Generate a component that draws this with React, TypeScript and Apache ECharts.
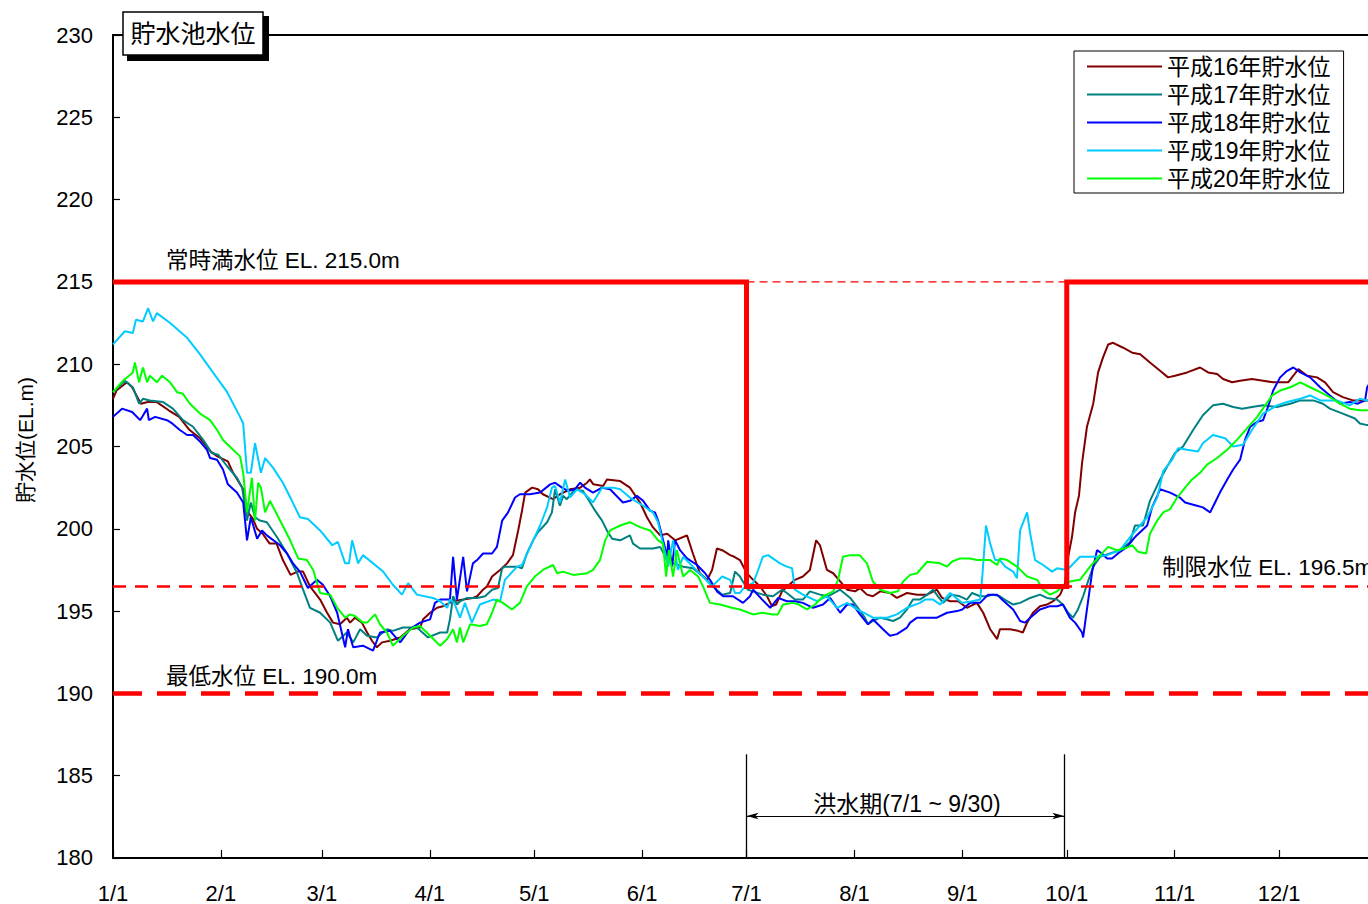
import React, { useEffect, useRef } from "react";
import * as echarts from "echarts";

// ---- axis ticks (day of year, leap year) ----
const MONTH_DAYS = [0, 31, 60, 91, 121, 152, 182, 213, 244, 274, 305, 335];
const MONTH_LABELS = ["1/1", "2/1", "3/1", "4/1", "5/1", "6/1", "7/1", "8/1", "9/1", "10/1", "11/1", "12/1"];

// ---- series names ----
const NAMES = ["平成16年貯水位", "平成17年貯水位", "平成18年貯水位", "平成19年貯水位", "平成20年貯水位"];
const COLORS = ["#800000", "#008080", "#0000FF", "#00CCFF", "#00FF00"];

// ---- reservoir levels [day of year, EL.m] ----
const h16 = [[0,207.9],[1,208.4],[4,208.9],[5.5,208.6],[8,207.6],[10,207.7],[12.6,207.7],[16,207.2],[19,206.8],[22,206.0],[25,205.5],[28,204.7],[30,204.4],[33,204.1],[34.5,203.4],[37.4,202.4],[38.8,201.0],[40.2,200.6],[41.4,200.0],[43,199.7],[45,199.1],[47,199.1],[48.8,198.1],[51,197.2],[53,197.4],[54.6,197.4],[56.6,196.5],[59.5,195.7],[61.5,194.9],[63.2,194.3],[65.2,194.2],[67.2,194.6],[68.1,194.3],[69.5,194.6],[71.5,194.3],[73,193.7],[74.4,193.2],[75.8,192.8],[77.3,193.1],[79.6,193.2],[82.5,193.4],[85.3,193.9],[88.2,194.0],[89.1,194.5],[91.1,194.9],[93.1,195.2],[94.8,195.3],[97.7,195.6],[100.6,195.7],[103.4,195.8],[104.6,195.9],[106.3,196.3],[107.4,196.5],[108.9,197.1],[111.2,197.5],[113.2,197.9],[114.9,198.4],[116.4,199.9],[117.5,201.1],[118.4,202.2],[120.4,202.5],[122.1,202.4],[123.5,202.1],[126.4,201.8],[128.4,202.1],[131.3,202.4],[134.2,202.5],[136.2,202.8],[137,203.0],[138,202.7],[140.8,202.6],[141.9,203.0],[145.7,202.9],[148.5,202.5],[151.4,201.6],[153.4,200.7],[155.1,200.1],[157.2,199.6],[159.2,199.7],[161.5,199.3],[163.8,199.5],[164.9,199.6],[166.6,198.5],[168.6,197.3],[170.7,196.9],[172.1,197.5],[173.5,198.8],[175,198.7],[177.3,198.4],[178.5,198.3],[180.1,198.1],[182.1,197.3],[183.9,196.9],[185.9,196.5],[187.9,195.9],[189.3,195.3],[190.5,195.4],[192.2,196.2],[195.9,196.9],[198.2,197.1],[200.2,197.5],[202,199.3],[203.1,199.0],[205.1,197.5],[206.9,197.3],[208.9,196.8],[210.9,196.3],[213.2,196.2],[214.6,196.4],[216.6,196.0],[218.3,195.9],[220.4,196.2],[223.2,196.1],[225.2,195.8],[228.1,196.1],[231,196.0],[233.9,196.0],[236.7,196.3],[238.2,195.8],[240.5,195.6],[242.8,195.6],[245.3,195.2],[248.2,195.5],[250,194.9],[252,193.9],[254,193.3],[254.8,193.9],[257.7,193.9],[260,193.8],[261.4,193.7],[262.6,194.3],[264.3,194.9],[266.3,195.3],[268.3,195.4],[270.1,195.6],[272.1,196.0],[273.5,196.7],[274.4,198.3],[275.5,199.5],[276.4,201.0],[277.5,202.0],[278.4,204.0],[279.8,206.2],[281.6,207.6],[283,209.5],[284.4,210.4],[285.9,211.2],[287.3,211.3],[290.2,211.0],[292.8,210.7],[295.1,210.6],[297.9,210.1],[300.8,209.6],[303.1,209.2],[305.1,209.3],[308.6,209.5],[312.3,209.8],[314.6,209.5],[317.2,209.4],[318.9,209.1],[321.5,208.9],[323.8,209.0],[327.2,209.1],[330.4,209.0],[333.3,208.9],[337.6,208.9],[339.1,209.3],[340.5,209.7],[343.1,209.3],[345.9,209.2],[348.2,208.9],[350.5,208.3],[353.3,208.0],[356.2,207.8],[360.3,207.8],[366,207.8]];

const h17 = [[0,208.3],[3.4,209.0],[5.7,208.6],[7.5,207.6],[8.6,207.9],[10.6,207.8],[14.4,207.7],[17.2,207.3],[20.1,206.6],[23,206.2],[25.9,205.4],[28.4,204.6],[30.2,204.5],[32.8,203.8],[35.6,203.1],[37.1,202.5],[38.5,200.5],[39.6,201.6],[40.8,200.7],[42.2,200.5],[44.2,200.4],[47.1,199.5],[50,198.5],[52.9,197.3],[54.6,196.3],[56.6,195.2],[59.5,194.9],[62.4,194.3],[64.6,193.2],[67.2,193.7],[69,193.1],[71,193.9],[73,193.5],[75.8,193.4],[78.7,193.9],[80.4,193.8],[83.3,194.0],[87.3,194.0],[90.5,193.4],[94,193.7],[96,193.7],[96.8,194.5],[97.7,195.9],[98.8,195.4],[99.7,195.6],[101.7,195.8],[104.6,195.8],[106.9,195.9],[108.9,196.3],[110.6,196.4],[111.8,197.6],[112.6,197.7],[116.1,197.7],[117.5,197.6],[118.9,198.5],[120.7,199.3],[122.1,199.8],[124.7,200.4],[126.1,201.0],[127,202.4],[128.4,201.4],[129.3,202.0],[130.4,201.8],[132.7,202.4],[135,202.3],[136.5,201.8],[138.5,201.1],[140.5,200.5],[141.9,199.9],[143.4,199.4],[145.7,199.3],[148.5,199.6],[149.4,199.1],[151.4,198.8],[155.1,198.8],[157.2,198.9],[159.2,198.1],[160.9,197.9],[163.8,197.7],[166.6,197.6],[169.5,197.1],[172.4,196.5],[175,196.0],[177.3,196.1],[178.7,197.4],[180.1,197.1],[182.4,196.3],[183.9,196.2],[186.7,196.0],[189.6,195.9],[192.2,196.3],[193.6,196.1],[195.9,195.7],[198.2,195.7],[200.2,196.2],[203.1,196.0],[205.4,195.9],[208.9,196.3],[211.8,195.8],[214,195.2],[216,194.6],[216.9,194.2],[218.3,194.4],[220.4,194.6],[222.4,194.5],[224.1,194.4],[226.1,194.6],[228.1,195.1],[229.8,195.7],[231.8,195.7],[233.9,196.0],[235.6,196.3],[237,195.9],[238.5,195.5],[241,196.0],[243.3,195.9],[245.3,195.7],[246.8,196.1],[249.1,195.9],[251.1,195.9],[252.8,196.0],[254.8,195.9],[256.9,195.6],[258.6,195.4],[260.6,195.5],[263.5,195.8],[266.3,196.0],[268.3,195.8],[271.2,195.7],[272.9,195.4],[274.4,194.9],[275.8,194.6],[277.2,195.1],[278.7,195.9],[280.1,196.8],[281.6,197.7],[283.6,198.3],[286.4,198.5],[289.3,198.7],[292.2,199.2],[293.6,200.2],[295.9,200.2],[297.9,201.7],[300.8,203.0],[302.9,203.8],[305.1,204.6],[307.4,205.0],[310.3,206.0],[313.1,206.9],[316,207.5],[318.9,207.6],[321.8,207.4],[324.4,207.3],[327.2,207.4],[330.4,207.5],[334.4,207.4],[338.2,207.6],[341.1,207.8],[344.8,207.8],[347.6,207.6],[349.6,207.3],[353.3,207.0],[356.8,206.7],[358.2,206.4],[360.3,206.3],[366,206.3]];

const h18 = [[0,206.8],[2.6,207.3],[5.5,207.1],[7.8,206.6],[9.8,207.3],[10.3,206.6],[12.1,206.8],[15.5,206.6],[17,206.4],[19.2,206.0],[21.3,205.7],[23,205.7],[25,205.3],[27,204.8],[27.9,204.3],[29.9,204.2],[31.6,203.6],[33,202.7],[35.6,202.2],[37.4,201.6],[38.5,199.3],[39.6,200.7],[41.4,199.4],[42.8,199.9],[44.2,199.6],[48,199.0],[50,198.5],[51.7,197.9],[53.7,197.4],[56,196.4],[58.6,196.9],[60.3,196.6],[62.4,195.9],[64.4,194.9],[66.7,192.8],[67.5,193.9],[69,192.8],[71.8,192.9],[74.7,192.6],[76.7,193.7],[79.6,193.8],[82.5,193.1],[85.3,193.9],[88.2,194.3],[91.1,194.5],[92.5,195.5],[94,195.7],[96.8,195.7],[97.7,198.3],[98.8,195.7],[100.6,198.3],[101.7,196.2],[103.4,197.9],[104.6,198.1],[106.3,198.5],[108.9,198.5],[110.3,198.9],[111.8,200.5],[113.5,201.0],[115.5,201.9],[116.9,202.1],[119.8,202.1],[122.7,202.2],[125.6,202.7],[127,202.8],[129,202.5],[130.7,202.3],[132.7,202.4],[134.2,202.8],[135.6,202.5],[137.9,202.2],[140.5,202.5],[142.8,202.4],[145.1,201.9],[146.5,201.6],[148.5,201.7],[150.5,202.0],[152.3,201.7],[154.3,201.1],[155.7,201.0],[156.6,200.5],[157.7,199.6],[159.2,198.3],[159.5,199.3],[160.6,197.7],[161.5,199.3],[162.9,198.7],[164.9,198.2],[167.8,197.8],[170.1,197.3],[171.5,196.9],[173.5,196.2],[175.3,195.9],[178.1,195.9],[181,195.5],[183,195.9],[183.9,196.3],[186.5,195.7],[188.8,195.2],[191.1,195.8],[193.6,195.6],[195.9,195.6],[198.2,195.5],[201.1,195.2],[204,195.4],[206,195.8],[208.9,194.9],[210.9,195.4],[212.5,195.4],[214.6,194.8],[216.9,194.2],[218.3,194.5],[221.2,193.9],[223.2,193.5],[225.2,193.6],[228.1,194.0],[229,194.3],[231,194.6],[236.7,194.6],[239.6,194.9],[242.5,195.0],[244,195.1],[246.2,195.5],[249.1,195.5],[251.4,196.0],[254,196.0],[255.4,195.7],[258.6,195.1],[260.6,194.4],[262,194.3],[263.5,194.6],[266.3,195.1],[269.2,195.3],[271.2,195.3],[272.9,195.4],[274.9,194.6],[276.4,194.3],[278.4,193.7],[278.7,193.4],[279.8,195.1],[281.3,197.4],[282.7,198.7],[284.1,198.5],[285.6,198.2],[287,198.2],[289.3,198.6],[291.3,198.9],[293.6,199.5],[295.6,199.9],[297.1,200.2],[298.5,201.3],[300,202.0],[300.8,202.4],[303.7,202.2],[306.5,201.9],[308,201.6],[311.4,201.4],[313.1,201.3],[315.2,201.0],[316.6,201.6],[318,202.2],[320.1,203.0],[321.8,203.6],[323.8,204.2],[325.2,205.4],[326.7,206.2],[328.7,206.5],[330.4,206.6],[331.8,207.4],[333.3,208.4],[335.3,209.2],[337.3,209.6],[339.1,209.8],[341.1,209.5],[343.9,209.2],[346.8,208.6],[349.6,208.1],[352.5,207.6],[355.3,207.7],[357.6,207.6],[359.7,207.8],[360.3,208.6],[363,209.5]];

const h19 = [[0,211.2],[3.4,212.0],[5.7,211.9],[6.6,212.7],[8.6,212.6],[10.1,213.4],[11.5,212.6],[12.6,213.1],[16.4,212.5],[21.3,211.6],[25,210.6],[28.7,209.5],[32.8,208.3],[36.5,206.8],[37.4,206.4],[38.5,203.4],[39.6,203.4],[40.8,205.2],[42.5,203.4],[43.7,204.3],[46,203.7],[48.8,202.8],[51.4,201.7],[53.7,200.7],[56,200.6],[59.5,199.9],[63,199.0],[64.6,199.2],[66.7,197.9],[67.8,197.9],[68.7,199.3],[70.4,197.9],[71.8,198.4],[77.6,197.4],[80.4,196.6],[83,196.0],[84.8,196.7],[87.3,196.0],[91.9,195.8],[94,195.6],[96,195.2],[96.8,195.7],[98,195.5],[99.7,194.6],[101.1,195.5],[103.1,194.3],[105.4,195.4],[109.2,195.7],[111.2,195.6],[112.6,196.9],[116.1,197.7],[117.5,197.8],[120.7,199.3],[122.7,200.2],[124.7,201.3],[126.1,202.5],[127,202.6],[128.4,201.6],[129.9,203.0],[131.3,201.9],[133.3,202.4],[135.6,202.1],[137.9,201.6],[140.5,202.5],[143.7,202.5],[145.7,202.4],[148.5,201.9],[152.3,201.4],[155.1,201.0],[156.6,200.4],[158,199.1],[159.5,197.7],[160.9,199.3],[162.3,197.5],[163.8,198.3],[166.6,197.7],[169.5,197.1],[172.1,196.5],[175,197.1],[177.3,196.9],[178.7,196.1],[180.1,196.1],[181.6,196.5],[183.9,196.7],[185,197.3],[186.7,198.3],[188.2,198.4],[191.6,197.9],[193.6,197.7],[195.1,197.6],[195.9,196.3],[198.2,196.0],[202.3,195.6],[205.1,195.9],[208,195.2],[210.9,195.5],[213.8,195.1],[216.6,194.8],[218.3,194.6],[222.4,194.6],[225.2,194.8],[228.1,195.2],[231.8,195.5],[233.3,195.7],[235.6,195.7],[237.6,195.4],[240.5,196.1],[243.9,195.5],[246.8,195.6],[249.1,195.7],[249.7,197.0],[250.8,200.2],[252,199.1],[253.4,198.1],[254.8,198.1],[256.3,197.7],[258.6,197.4],[259.7,197.0],[260.6,199.9],[262.6,201.0],[263.5,199.7],[264.9,198.1],[267.2,197.8],[269.8,197.4],[271.2,197.6],[274.1,197.5],[277.8,198.3],[281.6,198.3],[285.6,198.4],[289.3,198.7],[293,199.7],[297.1,200.7],[300,201.9],[301.7,203.5],[304.3,204.2],[306,204.9],[308.6,204.8],[311.7,204.7],[313.1,205.2],[316,205.7],[319.5,205.5],[321.8,205.0],[324.6,205.1],[327.2,206.0],[330.4,207.0],[334.4,207.5],[337.3,207.7],[341.1,207.9],[343.9,208.1],[346.8,207.8],[351.6,207.8],[355.3,207.5],[358.2,207.9],[360.3,207.8],[366,207.8]];

const h20 = [[0,208.3],[2.9,209.0],[5.7,209.5],[6.3,210.1],[7.5,208.9],[8.6,209.8],[9.8,208.9],[10.6,209.3],[12.6,208.9],[14.1,209.3],[16.4,208.9],[18.4,208.3],[20.1,208.2],[22.1,207.6],[25,207.0],[27.9,206.6],[29.9,206.0],[31.6,205.4],[34.5,204.8],[36.5,204.4],[37.4,203.4],[38.5,201.0],[39.9,203.1],[40.8,200.5],[41.7,202.8],[42.5,202.5],[43.7,201.0],[45.1,201.7],[48,200.5],[50.9,199.3],[53.2,198.2],[55.7,198.1],[57.5,197.5],[59.5,196.1],[62.4,196.0],[64.4,195.2],[66.7,194.6],[68.1,194.8],[69.5,194.7],[71.8,194.3],[73,194.3],[75.3,194.8],[76.7,194.2],[78.7,193.7],[80.4,192.9],[83.3,193.5],[86.2,194.0],[88.2,194.1],[91.1,193.5],[94,192.9],[96,193.3],[97.7,193.9],[98.8,193.1],[99.7,194.0],[100.6,193.1],[102.6,194.2],[105.4,194.1],[107.4,194.2],[108.9,194.9],[110.3,195.7],[112,195.5],[114.6,195.1],[116.9,195.5],[118.9,196.5],[121.2,197.1],[123.5,197.5],[126.4,197.8],[127.6,197.3],[129.3,197.4],[132.2,197.2],[136.2,197.3],[137.9,197.5],[139.9,198.1],[141.4,199.3],[142.8,199.9],[145.7,200.2],[148.5,200.4],[151.4,200.1],[154.3,199.9],[156.6,199.3],[158,199.1],[158.9,197.1],[159.7,198.7],[160.9,197.1],[162,198.7],[163.8,197.1],[165.8,197.5],[168.1,197.1],[169.5,196.5],[171.5,195.5],[174.4,195.4],[177.8,195.2],[180.1,195.1],[183.9,194.8],[186.5,194.9],[189.6,194.8],[191,194.8],[192.5,195.4],[195.4,195.5],[197,195.4],[199.4,195.1],[201.7,195.4],[204,195.9],[206.9,196.2],[208.3,196.9],[209.7,198.3],[211.8,198.4],[214.5,198.4],[216.6,197.9],[218.3,196.8],[220.4,196.3],[223.2,196.1],[225.5,196.2],[227,196.8],[229,197.2],[231,197.3],[233.9,198.0],[237.6,197.9],[239.6,197.7],[241,198.0],[243.3,198.2],[246.2,198.2],[248.2,198.1],[252,198.1],[254,197.8],[254.8,198.2],[256.9,198.1],[259.7,197.7],[262.6,197.1],[265.5,196.9],[267.2,196.3],[269.2,196.0],[271.2,196.2],[272.9,196.5],[274.9,196.8],[277.8,196.9],[280.7,197.7],[283.6,198.4],[285.9,198.9],[288.4,198.7],[290.5,198.8],[292.8,199.0],[294.5,198.6],[296.8,198.5],[297.9,199.7],[300,200.5],[301.7,201.0],[303.7,201.2],[305.7,201.9],[308,202.5],[310,203.0],[312.3,203.4],[314.3,203.9],[317.2,204.3],[320.1,204.8],[322.9,205.4],[325.8,206.1],[328.7,206.8],[331,207.5],[333,208.1],[335.3,208.4],[338.2,208.6],[341.1,208.9],[343.9,208.6],[346.8,208.3],[349.6,208.0],[352.5,207.6],[355.3,207.3],[358.2,207.2],[360.3,207.2],[366,207.2]];

// ---- reference levels ----
const NORMAL_LEVEL = 215.0;     // 常時満水位
const LIMIT_LEVEL = 196.5;      // 制限水位
const MIN_LEVEL = 190.0;        // 最低水位
const FLOOD_START = 182;        // 7/1
const FLOOD_END = 274;          // 10/1
const YEAR_END = 366;
const OPERATING_RULE = [[0, NORMAL_LEVEL], [FLOOD_START, NORMAL_LEVEL], [FLOOD_START, LIMIT_LEVEL], [FLOOD_END, LIMIT_LEVEL], [FLOOD_END, NORMAL_LEVEL], [YEAR_END, NORMAL_LEVEL]];
const BRACKET_TOP = 186.3;
const BRACKET_ARROW = 182.55;

const FONT = "'Liberation Sans', Arial, 'Noto Sans CJK JP', sans-serif";

export default function App() {
  const ref = useRef<HTMLDivElement>(null);
  useEffect(() => {
    const chart = echarts.init(ref.current as HTMLDivElement, null, { renderer: "svg" });
    const dataSets = [h16, h17, h18, h19, h20];
    const dataSeries = dataSets.map((d, i) => ({
      name: NAMES[i],
      type: "line",
      data: d,
      symbol: "none",
      showSymbol: false,
      lineStyle: { color: COLORS[i], width: 2 },
      itemStyle: { color: COLORS[i] },
      z: 2,
      silent: true,
    }));
    const txt = (text: string, x: number, y: number, size: number, align = "left", extra: any = {}) => ({
      type: "text",
      x,
      y,
      z: 50,
      ...extra,
      style: { text, fontSize: size, fontFamily: FONT, fill: "#000", align, verticalAlign: "middle" },
    });
    const option: any = {
      animation: false,
      backgroundColor: "#fff",
      textStyle: { fontFamily: FONT },
      grid: { left: 113, top: 35, right: 0, bottom: 46, show: true, borderColor: "#000", borderWidth: 2, backgroundColor: "transparent" },
      xAxis: {
        type: "value",
        min: 0,
        max: YEAR_END,
        axisLine: { show: true, lineStyle: { color: "#000", width: 2 } },
        axisTick: { show: true, inside: true, length: 8, customValues: MONTH_DAYS, lineStyle: { color: "#000", width: 1.2 } },
        axisLabel: {
          customValues: MONTH_DAYS,
          formatter: (v: number) => { const i = MONTH_DAYS.indexOf(Math.round(v)); return i >= 0 ? MONTH_LABELS[i] : ""; },
          fontSize: 22, color: "#000", fontFamily: FONT, margin: 24,
        },
        splitLine: { show: false },
      },
      yAxis: {
        type: "value",
        min: 180,
        max: 230,
        interval: 5,
        axisLine: { show: true, lineStyle: { color: "#000", width: 2 } },
        axisTick: { show: true, inside: true, length: 7, lineStyle: { color: "#000", width: 1.2 } },
        axisLabel: { fontSize: 22, color: "#000", fontFamily: FONT, margin: 20 },
        splitLine: { show: false },
      },
      legend: {
        data: NAMES,
        orient: "vertical",
        left: 1074,
        top: 51,
        backgroundColor: "#fff",
        borderColor: "#000",
        borderWidth: 1,
        borderRadius: 0,
        padding: [4, 13, 3, 13],
        icon: "rect",
        itemWidth: 75,
        itemHeight: 2,
        itemGap: 5,
        selectedMode: false,
        textStyle: { fontSize: 23, fontFamily: FONT, color: "#000", lineHeight: 22 },
      },
      series: [
        ...dataSeries,
        {
          name: "常時満水位",
          type: "line",
          data: OPERATING_RULE,
          symbol: "none",
          lineStyle: { color: "#FF0000", width: 5, join: "miter" },
          z: 6,
          silent: true,
          markLine: {
            silent: true,
            animation: false,
            label: { show: false },
            emphasis: { disabled: true },
            data: [
              [
                { coord: [FLOOD_START, BRACKET_TOP], symbol: "none", lineStyle: { color: "#000", width: 1.3, type: "solid" } },
                { coord: [FLOOD_START, 180], symbol: "none" },
              ],
              [
                { coord: [FLOOD_END - 0.7, BRACKET_TOP], symbol: "none", lineStyle: { color: "#000", width: 1.3, type: "solid" } },
                { coord: [FLOOD_END - 0.7, 180], symbol: "none" },
              ],
              [
                { coord: [FLOOD_START, BRACKET_ARROW], symbol: "arrow", symbolSize: [5, 12], lineStyle: { color: "#000", width: 1.2, type: "solid" } },
                { coord: [FLOOD_END - 0.7, BRACKET_ARROW], symbol: "arrow", symbolSize: [5, 12] },
              ],
            ],
          },
        },
        {
          name: "常時満水位(洪水期)",
          type: "line",
          data: [[FLOOD_START, NORMAL_LEVEL], [FLOOD_END, NORMAL_LEVEL]],
          symbol: "none",
          lineStyle: { color: "#FF0000", width: 1.3, type: [8, 5] },
          z: 5,
          silent: true,
        },
        {
          name: "制限水位",
          type: "line",
          data: [[0, LIMIT_LEVEL], [YEAR_END, LIMIT_LEVEL]],
          symbol: "none",
          lineStyle: { color: "#FF0000", width: 2.5, type: [13, 9] },
          z: 5,
          silent: true,
        },
        {
          name: "最低水位",
          type: "line",
          data: [[0, MIN_LEVEL], [YEAR_END, MIN_LEVEL]],
          symbol: "none",
          lineStyle: { color: "#FF0000", width: 4.5, type: [29, 15] },
          z: 5,
          silent: true,
        },
      ],
      graphic: [
        { type: "rect", z: 100, shape: { x: 127, y: 16, width: 142, height: 45 }, style: { fill: "#000" } },
        { type: "rect", z: 101, shape: { x: 123, y: 12, width: 140, height: 43 }, style: { fill: "#fff", stroke: "#000", lineWidth: 1.5 } },
        { ...txt("貯水池水位", 193, 34, 25, "center"), z: 102 },
        txt("常時満水位 EL. 215.0m", 166, 260, 22.5),
        txt("制限水位 EL. 196.5m", 1162, 567, 22.5),
        txt("最低水位 EL. 190.0m", 166, 676, 22.5),
        txt("洪水期(7/1 ~ 9/30)", 907, 804, 23, "center"),
        txt("貯水位(EL.m)", 25, 440, 21, "center", { rotation: Math.PI / 2 }),
      ],
    };
    chart.setOption(option);
    return () => chart.dispose();
  }, []);
  return (
    <div style={{ position: "fixed", left: 0, top: 0, width: 1368, height: 904, overflow: "hidden", background: "#fff" }}>
      <div ref={ref} style={{ width: 1387, height: 904 }} />
    </div>
  );
}
